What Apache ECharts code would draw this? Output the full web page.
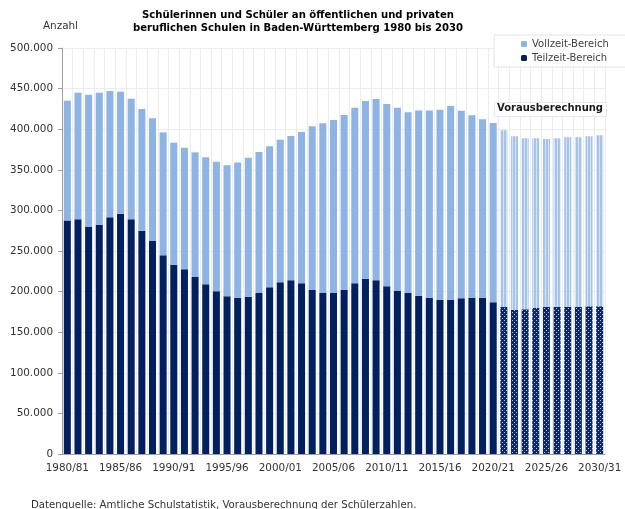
<!DOCTYPE html>
<html><head><meta charset="utf-8">
<script src="https://cdn.jsdelivr.net/npm/echarts@6/dist/echarts.min.js"></script>
<style>html,body{margin:0;padding:0;background:#fff}#c{width:625px;height:509px}</style>
</head><body><div id="c"></div>
<script>
const categories = ['1980/81','1981/82','1982/83','1983/84','1984/85','1985/86','1986/87','1987/88','1988/89','1989/90',
'1990/91','1991/92','1992/93','1993/94','1994/95','1995/96','1996/97','1997/98','1998/99','1999/00',
'2000/01','2001/02','2002/03','2003/04','2004/05','2005/06','2006/07','2007/08','2008/09','2009/10',
'2010/11','2011/12','2012/13','2013/14','2014/15','2015/16','2016/17','2017/18','2018/19','2019/20',
'2020/21','2021/22','2022/23','2023/24','2024/25','2025/26','2026/27','2027/28','2028/29','2029/30','2030/31'];
const teilzeit = [287700,289000,279500,282000,291500,296000,289000,275000,262300,244700,
233200,227500,218000,209000,200400,194400,192500,193700,198300,205300,
211400,213900,210200,202000,198300,198300,202000,210200,215900,213900,
206500,200700,198300,194800,192500,189600,190000,191700,192500,192500,
186800,181000,177300,178200,179800,181000,181000,181000,181000,181900,181900];
const vollzeit = [147400,156000,163000,163000,155500,150200,148600,149900,151100,151400,
150200,149700,153500,156400,159600,161100,166500,171200,173600,173600,
175700,177700,186300,201600,208900,213000,215500,216300,218800,223300,
224500,225800,222500,228200,230500,234400,238600,231100,224600,219700,
220800,217600,213900,210600,209000,206900,207800,209000,209000,209300,210600];
const projectionStart = '2021/22';
const yTicks = {min:0, max:500000, interval:50000};

function makePattern(w,h,bg,fg,pts){
  const cv=document.createElement('canvas');cv.width=w;cv.height=h;
  const x=cv.getContext('2d');x.fillStyle=bg;x.fillRect(0,0,w,h);x.fillStyle=fg;
  pts.forEach(p=>x.fillRect(p[0],p[1],p[2]||1,p[3]||1));return cv;
}
const lightPat = makePattern(3,4,'#a6c3e8','#d4e3f5',[[2,0,1,4]]);
const darkPat = makePattern(4,4,'#0d2a66','#b8c4dc',[[0,0],[2,2]]);
const pIdx = categories.indexOf(projectionStart);
function build(arr,pat){
  return arr.map((v,i)=> i>=pIdx ? {value:v,itemStyle:{color:{image:pat,repeat:'repeat'}}} : v);
}
const fmt = v => String(v).replace(/\B(?=(\d{3})+(?!\d))/g,'.');
const F = 'DejaVu Sans';
const chart = echarts.init(document.getElementById('c'));
chart.setOption({
  animation:false,
  backgroundColor:'#fff',
  title:{text:'Schülerinnen und Schüler an öffentlichen und privaten\nberuflichen Schulen in Baden-Württemberg 1980 bis 2030',
    left:298, top:9, textAlign:'center', padding:0,
    textStyle:{fontFamily:F,fontSize:10.1,fontWeight:'bold',color:'#000',lineHeight:13}},
  legend:{orient:'vertical', left:494, top:35, itemWidth:6, itemHeight:6, itemGap:2,
    padding:[3,20,3,27], backgroundColor:'#fff', borderColor:'#e4e4e4', borderWidth:1,
    textStyle:{fontFamily:F,fontSize:10,color:'#404040',lineHeight:12},
    data:['Vollzeit-Bereich','Teilzeit-Bereich']},
  grid:{left:62,right:20,top:48,bottom:55},
  xAxis:{type:'category',data:categories,
    axisLine:{lineStyle:{color:'#a0a0a0'}},
    axisTick:{interval:0,length:4,lineStyle:{color:'#a0a0a0'}},
    axisLabel:{interval:4,fontFamily:F,fontSize:10.4,color:'#333',margin:9},
    splitLine:{show:true,interval:0,lineStyle:{color:'#ececec'}}},
  yAxis:{type:'value',min:yTicks.min,max:yTicks.max,interval:yTicks.interval,
    axisLine:{show:true,lineStyle:{color:'#a0a0a0'}},
    axisTick:{show:true,length:4,lineStyle:{color:'#a0a0a0'}},
    axisLabel:{formatter:fmt,fontFamily:F,fontSize:10.4,color:'#333',margin:9},
    splitLine:{lineStyle:{color:'#ececec'}}},
  graphic:[
    {type:'text',left:43,top:21,style:{text:'Anzahl',font:'10.4px "DejaVu Sans"',fill:'#333'}},
    {type:'rect',left:494,top:102,shape:{width:112,height:14},style:{fill:'#fff',stroke:'#e8e8e8'},z:50},
    {type:'text',left:497,top:103,style:{text:'Vorausberechnung',font:'bold 10px "DejaVu Sans"',fill:'#1a1a1a'},z:51},
    {type:'text',left:31,top:500,style:{text:'Datenquelle: Amtliche Schulstatistik, Vorausberechnung der Schülerzahlen.',font:'10.2px "DejaVu Sans"',fill:'#333'}}
  ],
  series:[
    {name:'Teilzeit-Bereich',type:'bar',stack:'s',barCategoryGap:'34%',
     itemStyle:{color:'#002060'},data:build(teilzeit,darkPat)},
    {name:'Vollzeit-Bereich',type:'bar',stack:'s',barCategoryGap:'34%',
     itemStyle:{color:'#8db4e2'},data:build(vollzeit,lightPat)}
  ]
});
</script></body></html>
